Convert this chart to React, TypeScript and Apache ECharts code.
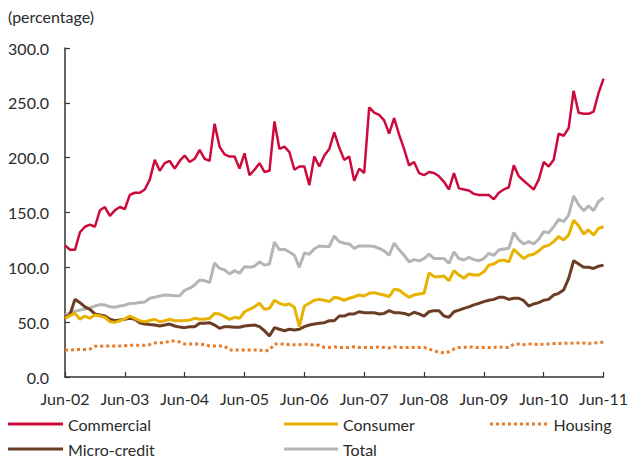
import React, { useEffect, useRef } from "react";
import * as echarts from "echarts";

const MONTHS = ["Jun", "Jul", "Aug", "Sep", "Oct", "Nov", "Dec", "Jan", "Feb", "Mar", "Apr", "May"];
const START_YEAR = 2; // Jun-02
const N_POINTS = 109; // Jun-02 .. Jun-11

const categories: string[] = [];
for (let i = 0; i < N_POINTS; i++) {
  const m = i % 12;
  const y = START_YEAR + Math.floor(i / 12) + (m >= 7 ? 1 : 0);
  categories.push(`${MONTHS[m]}-${String(y).padStart(2, "0")}`);
}

const commercial = [
  120, 116, 116, 132, 137, 139, 137, 152, 155, 147, 152, 155,
  153, 166, 168, 168, 171, 180, 198, 188, 195, 197, 190, 197,
  202, 196, 199, 207, 199, 197, 231, 210, 203, 201, 201, 190,
  204, 184, 189, 195, 187, 188, 233, 208, 210, 205, 189, 192,
  192, 175, 201, 192, 202, 208, 223, 209, 198, 201, 179, 190,
  186, 246, 241, 239, 234, 222, 236, 221, 208, 193, 196, 186,
  184, 187, 186, 183, 178, 171, 186, 172, 171, 170, 167, 166,
  166, 166, 162, 168, 171, 173, 193, 183, 179, 175, 171, 180,
  196, 192, 198, 222, 220, 227, 261, 241, 240, 240, 242, 259,
  272,
];

const consumer = [
  53.5, 56, 58, 52.6, 55.6, 53.5, 56.5, 55.6, 54.4, 50.4, 49.8, 51.3,
  53, 55.6, 53.5, 51.3, 50.4, 51.5, 52.6, 50.4, 51.3, 52.6, 51.3, 51.3,
  51.5, 52, 53.5, 52.6, 52.6, 53.5, 58, 57.5, 55, 52.6, 54.4, 53.5,
  59.5, 61.7, 64, 67.2, 61.7, 62.6, 70, 67.2, 65.7, 66.6, 63.6, 45.9,
  64.7, 67.2, 70, 70.8, 70, 68.7, 72.7, 71.8, 70, 71.8, 73.2, 74.8,
  73.9, 76.3, 76.9, 75.7, 74.8, 73.2, 80, 79.3, 75.7, 72.7, 74.8, 75.7,
  76.3, 95, 91.5, 91.5, 92, 87.8, 97, 93, 90, 94, 93, 93,
  96, 102, 103, 106, 106.7, 105, 116.5, 112, 108, 111, 112, 115,
  118.8, 120, 123.4, 128, 125, 129.5, 143, 138, 130.4, 134, 129.5, 135.6,
  137,
];

const housing = [
  24.6, 24.6, 25, 25, 25, 25.5, 28, 28, 28.3, 28.3, 28.3, 28.3,
  28.5, 29, 29, 29, 29, 29.5, 31, 31.3, 31.3, 32.8, 32.8, 32,
  30, 30, 30, 30, 29.5, 28.3, 28.3, 28.3, 28, 24.6, 24.6, 24.6,
  24.6, 24.6, 24.6, 24.6, 23.5, 24.6, 30, 30, 30, 29.5, 29.5, 29.5,
  30, 29.5, 29, 29, 27, 27, 27.5, 27, 27, 27, 27.5, 27,
  27, 27, 27, 27.5, 27, 26.5, 27.5, 27, 27, 27, 27, 27,
  27, 25.5, 24, 22.5, 22, 23, 25.5, 27, 27, 27.5, 27, 27,
  27, 27, 27, 27.5, 27, 27, 30, 30, 29.5, 30, 30, 29.5,
  30, 30, 30.5, 30.5, 31, 30.5, 31, 31, 31, 30.5, 31, 31.3,
  32,
];

const microCredit = [
  54.4, 57, 70.8, 67.8, 64, 61.7, 57.5, 56.5, 55.6, 52.6, 51.3, 52,
  52.6, 53.5, 52.6, 49.5, 48.3, 47.8, 47.4, 46.5, 47.4, 48.3, 46.5, 45.5,
  45, 45.9, 45.9, 49, 49, 49.5, 47.4, 44.4, 45.9, 45.9, 45.3, 45.3,
  46.5, 47, 47.4, 45.9, 42.2, 37.4, 45, 43.5, 42.2, 43.5, 42.9, 43.5,
  45.9, 47.4, 48.3, 49, 49.5, 51.3, 51.3, 55.6, 55.6, 57.5, 57.5, 59.5,
  58.6, 58.6, 58.6, 57.5, 58, 60.5, 58.6, 58.6, 58, 56.5, 59, 57.5,
  55.6, 59.5, 60.5, 60.5, 55.6, 54.4, 59.5, 61, 62.6, 64, 65.7, 67.2,
  68.7, 70, 70.8, 72.7, 72.7, 70.8, 71.8, 71.8, 69.6, 64.7, 66.6, 67.8,
  70, 70.8, 74.8, 76.3, 79.3, 90, 106, 103, 100, 100, 99, 101,
  102,
];

const total = [
  56.5, 58.7, 60, 61, 62, 63, 64.7, 66, 65.7, 64, 63.6, 64.7,
  65.5, 67, 67.2, 68, 68.4, 71.8, 72.7, 73.9, 74.8, 74.5, 74, 74,
  79, 81, 84, 88.5, 87.8, 86, 104, 99, 97.6, 94, 97, 94.6,
  100.6, 100, 101, 105, 102, 103, 123, 116, 116.5, 114, 111, 100,
  113, 112, 117, 119.5, 119, 119, 128.6, 123.4, 122, 121.3, 117.3, 119.5,
  119.5, 119.5, 119, 117.3, 115, 111, 122, 116, 111, 105, 107, 106,
  108, 112, 108, 108, 108, 103.7, 114, 108, 106.7, 109, 107, 106,
  108, 112.8, 111, 115.8, 116.7, 117.3, 131.6, 125, 121.3, 123.4, 121.3, 125.6,
  132.5, 131.6, 137, 143.8, 141.6, 147.7, 165, 157, 151.7, 156, 151.7, 160,
  163.5,
];

const FONT = "Lato, 'Open Sans', sans-serif";
const TEXT = "#2b2b2b";

// legend icons (solid bar and dotted bar)
const SOLID_ICON = "path://M0,0h55v3h-55z";
const DOTTED_ICON =
  "path://" +
  Array.from({ length: 10 }, (_, k) => `M${k * 6},0h3v3h-3z`).join(" ");

export default function App() {
  const ref = useRef<HTMLDivElement>(null);

  useEffect(() => {
    if (!ref.current) return;
    const chart = echarts.init(ref.current, undefined, { renderer: "svg" });

    const mkSeries = (name: string, data: number[], color: string, width: number, type: any = "solid") => ({
      name,
      type: "line",
      data,
      showSymbol: false,
      symbol: "none",
      lineStyle: { color, width, type },
      itemStyle: { color },
    });

    const legendText = { fontFamily: FONT, fontSize: 16, color: TEXT };
    const mkLegend = (name: string, left: number, top: number, w: number, icon: string) => ({
      data: [{ name, icon }],
      left,
      top,
      itemWidth: w,
      itemHeight: 3,
      textStyle: legendText,
      padding: 0,
      selectedMode: false,
    });

    chart.setOption({
      animation: false,
      textStyle: { fontFamily: FONT },
      title: {
        text: "(percentage)",
        left: 8,
        top: 8,
        padding: 0,
        textStyle: { fontFamily: FONT, fontSize: 16, fontWeight: "normal", color: TEXT },
      },
      legend: [
        mkLegend("Commercial", 8, 416, 55, SOLID_ICON),
        mkLegend("Consumer", 284, 416, 54, SOLID_ICON),
        mkLegend("Housing", 490, 416, 60, DOTTED_ICON),
        mkLegend("Micro-credit", 8, 441, 55, SOLID_ICON),
        mkLegend("Total", 284, 441, 54, SOLID_ICON),
      ],
      grid: { left: 65, right: 23, top: 48, bottom: 83, containLabel: false },
      xAxis: {
        type: "category",
        data: categories,
        boundaryGap: false,
        axisLine: { show: true, lineStyle: { color: "#333", width: 1.5 } },
        axisTick: { show: true, inside: true, length: 5, interval: 11, lineStyle: { color: "#333", width: 1.2 } },
        axisLabel: { interval: 11, margin: 13, fontFamily: FONT, fontSize: 16, color: TEXT },
        splitLine: { show: false },
      },
      yAxis: {
        type: "value",
        min: 0,
        max: 300,
        interval: 50,
        axisLine: { show: true, lineStyle: { color: "#333", width: 1.5 } },
        axisTick: { show: true, inside: true, length: 5, lineStyle: { color: "#333", width: 1.2 } },
        axisLabel: { margin: 16, fontFamily: FONT, fontSize: 16, color: TEXT, formatter: (v: number) => v.toFixed(1) },
        splitLine: { show: false },
      },
      series: [
        mkSeries("Total", total, "#b5b5b5", 3),
        mkSeries("Micro-credit", microCredit, "#6b3d24", 3),
        mkSeries("Consumer", consumer, "#e8b200", 3),
        mkSeries("Housing", housing, "#ea7b28", 3, [3, 3]),
        mkSeries("Commercial", commercial, "#cc0a3c", 2.5),
      ],
    });

    return () => chart.dispose();
  }, []);

  return (
    <div
      ref={ref}
      style={{ position: "fixed", left: 0, top: 0, width: 631, height: 460, background: "#fff" }}
    />
  );
}
